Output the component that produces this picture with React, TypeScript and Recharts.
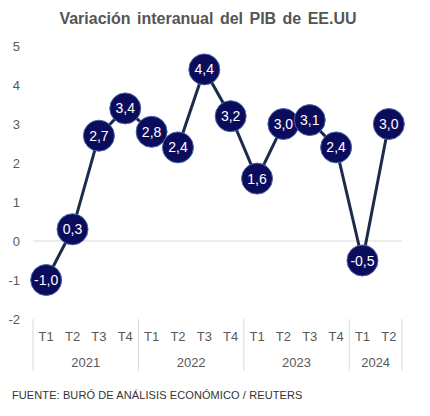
import React from "react";
import {
  LineChart,
  Line,
  XAxis,
  YAxis,
  ReferenceLine,
  LabelList,
} from "recharts";

const quarters = ["T1", "T2", "T3", "T4", "T1", "T2", "T3", "T4", "T1", "T2", "T3", "T4", "T1", "T2"];
const years = ["2021", "2021", "2021", "2021", "2022", "2022", "2022", "2022", "2023", "2023", "2023", "2023", "2024", "2024"];
const gdpValues = [-1.0, 0.3, 2.7, 3.4, 2.8, 2.4, 4.4, 3.2, 1.6, 3.0, 3.1, 2.4, -0.5, 3.0];
const yTicks = [-2, -1, 0, 1, 2, 3, 4, 5];

const data = quarters.map((q, i) => ({ q, year: years[i], value: gdpValues[i] }));

const FONT = "'Liberation Sans', Arial, sans-serif";
const TEXT = "#595959";
const PLOT_LEFT = 33;
const PLOT_RIGHT = 402;
const BAND = (PLOT_RIGHT - PLOT_LEFT) / quarters.length;

const fmt = (v: number) => v.toFixed(1).replace(".", ",");

const YTick = (props: any) => {
  const { y, payload } = props;
  return (
    <text x={20} y={y} dy={5} textAnchor="end" fontSize={13} fill={TEXT} fontFamily={FONT}>
      {payload.value}
    </text>
  );
};

const QuarterTick = (props: any) => {
  const { x, y, payload } = props;
  const i = payload.index;
  const yr = years[i];
  const first = i === 0 || years[i - 1] !== yr;
  const last = i === years.length - 1;
  let groupStart = i;
  while (groupStart > 0 && years[groupStart - 1] === yr) groupStart--;
  let groupEnd = i;
  while (groupEnd < years.length - 1 && years[groupEnd + 1] === yr) groupEnd++;
  const mid = Math.floor((groupStart + groupEnd) / 2);
  const top = y - 8;
  return (
    <g>
      <text x={x} y={y + 14} textAnchor="middle" fontSize={13} fill={TEXT} fontFamily={FONT}>
        {payload.value}
      </text>
      {first && <line x1={x - BAND / 2} x2={x - BAND / 2} y1={top} y2={top + 52} stroke="#d9d9d9" />}
      {last && <line x1={x + BAND / 2} x2={x + BAND / 2} y1={top} y2={top + 52} stroke="#d9d9d9" />}
      {i === mid && (
        <text
          x={x + ((groupEnd - groupStart) % 2 === 1 ? BAND / 2 : 0)}
          y={y + 40}
          textAnchor="middle"
          fontSize={13}
          fill={TEXT}
          fontFamily={FONT}
        >
          {yr}
        </text>
      )}
    </g>
  );
};

const Dot = (props: any) => {
  const { cx, cy } = props;
  return <circle cx={cx} cy={cy} r={15.5} fill="#0c0c5c" stroke="#4a68a8" strokeWidth={1} />;
};

const ValueLabel = (props: any) => {
  const { x, y, value } = props;
  return (
    <text x={x} y={y} dy={5} textAnchor="middle" fontSize={14} fill="#ffffff" fontFamily={FONT}>
      {fmt(value)}
    </text>
  );
};

export default function App() {
  return (
    <div style={{ position: "relative", width: 430, height: 416, margin: -8, background: "#fff", fontFamily: FONT }}>
      <div
        style={{
          position: "absolute",
          top: 10,
          left: 0,
          width: 416,
          textAlign: "center",
          fontSize: 16,
          fontWeight: "bold",
          color: "#555555",
          wordSpacing: 2,
        }}
      >
        Variación interanual del PIB de EE.UU
      </div>
      <LineChart width={430} height={416} data={data} margin={{ top: 46, right: 28, bottom: 37, left: 0 }}>
        <XAxis
          dataKey="q"
          axisLine={false}
          tickLine={false}
          tick={<QuarterTick />}
          interval={0}
          height={60}
          padding={{ left: BAND / 2, right: BAND / 2 }}
        />
        <YAxis
          domain={[-2, 5]}
          ticks={yTicks}
          axisLine={false}
          tickLine={false}
          width={PLOT_LEFT}
          tick={<YTick />}
          interval={0}
        />
        <ReferenceLine y={0} stroke="#d9d9d9" strokeWidth={1} />
        <Line
          dataKey="value"
          stroke="#1b2c4a"
          strokeWidth={3}
          dot={<Dot />}
          activeDot={false}
          isAnimationActive={false}
        >
          <LabelList dataKey="value" content={<ValueLabel />} />
        </Line>
      </LineChart>
      <div style={{ position: "absolute", top: 389, left: 12, fontSize: 11, color: "#333", letterSpacing: 0.1 }}>
        FUENTE: BURÓ DE ANÁLISIS ECONÓMICO / REUTERS
      </div>
    </div>
  );
}
